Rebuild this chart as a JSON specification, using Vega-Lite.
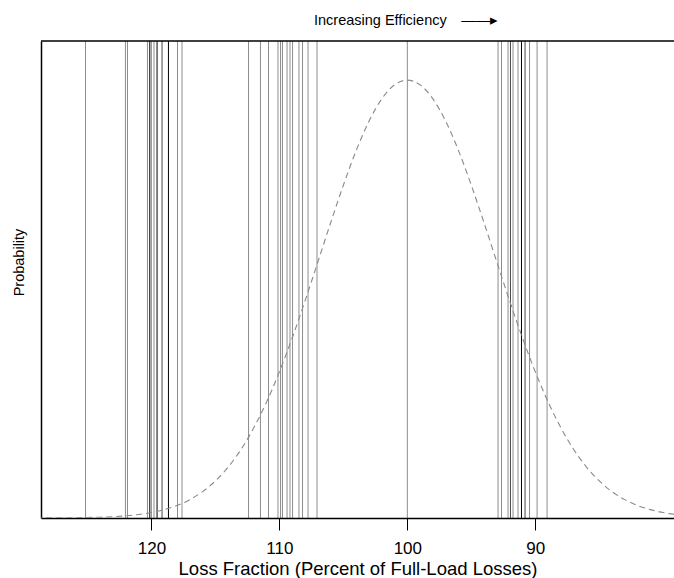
{
  "$schema": "https://vega.github.io/schema/vega-lite/v6.json",
  "autosize": {"type": "none"},
  "padding": {"left": 41, "top": 41, "right": 0, "bottom": 60},
  "width": 633,
  "height": 477,
  "background": "white",
  "config": {
    "view": {"stroke": null},
    "font": "Liberation Sans",
    "axis": {"grid": false}
  },
  "title": {
    "text": "Increasing Efficiency\u2002\u2002\u2014\u2014\u25B8",
    "anchor": "start",
    "frame": "group",
    "dx": 273,
    "offset": 1,
    "baseline": "alphabetic",
    "font": "Liberation Sans",
    "fontSize": 14.5,
    "fontWeight": "normal",
    "color": "#000000"
  },
  "datasets": {
    "readings": [
      {"loss": 125.15, "n": 1},
      {"loss": 122.03, "n": 1},
      {"loss": 121.87, "n": 1},
      {"loss": 120.31, "n": 1},
      {"loss": 120.15, "n": 2},
      {"loss": 120.03, "n": 2},
      {"loss": 119.80, "n": 1},
      {"loss": 119.56, "n": 3},
      {"loss": 119.17, "n": 2},
      {"loss": 118.67, "n": 3},
      {"loss": 117.96, "n": 1},
      {"loss": 117.61, "n": 1},
      {"loss": 112.41, "n": 1},
      {"loss": 111.48, "n": 1},
      {"loss": 110.85, "n": 1},
      {"loss": 110.11, "n": 1},
      {"loss": 109.91, "n": 1},
      {"loss": 109.76, "n": 1},
      {"loss": 109.40, "n": 1},
      {"loss": 109.17, "n": 1},
      {"loss": 108.97, "n": 1},
      {"loss": 108.47, "n": 1},
      {"loss": 108.19, "n": 1},
      {"loss": 107.76, "n": 1},
      {"loss": 107.06, "n": 1},
      {"loss": 100.00, "n": 1},
      {"loss": 92.91, "n": 1},
      {"loss": 92.64, "n": 1},
      {"loss": 92.13, "n": 1},
      {"loss": 91.94, "n": 2},
      {"loss": 91.74, "n": 1},
      {"loss": 91.35, "n": 1},
      {"loss": 91.08, "n": 3},
      {"loss": 90.80, "n": 2},
      {"loss": 90.45, "n": 1},
      {"loss": 89.86, "n": 1},
      {"loss": 89.08, "n": 1}
    ],
    "distribution": [
      {"loss": 79, "p": 0.0073},
      {"loss": 80, "p": 0.0114},
      {"loss": 81, "p": 0.0175},
      {"loss": 82, "p": 0.0262},
      {"loss": 83, "p": 0.0385},
      {"loss": 84, "p": 0.0553},
      {"loss": 85, "p": 0.0777},
      {"loss": 86, "p": 0.1068},
      {"loss": 87, "p": 0.1437},
      {"loss": 88, "p": 0.1891},
      {"loss": 89, "p": 0.2433},
      {"loss": 90, "p": 0.3064},
      {"loss": 91, "p": 0.3774},
      {"loss": 92, "p": 0.4548},
      {"loss": 93, "p": 0.5362},
      {"loss": 94, "p": 0.6184},
      {"loss": 95, "p": 0.6977},
      {"loss": 96, "p": 0.7702},
      {"loss": 97, "p": 0.8317},
      {"loss": 98, "p": 0.8786},
      {"loss": 99, "p": 0.9080},
      {"loss": 100, "p": 0.9180},
      {"loss": 101, "p": 0.9080},
      {"loss": 102, "p": 0.8786},
      {"loss": 103, "p": 0.8317},
      {"loss": 104, "p": 0.7702},
      {"loss": 105, "p": 0.6977},
      {"loss": 106, "p": 0.6184},
      {"loss": 107, "p": 0.5362},
      {"loss": 108, "p": 0.4548},
      {"loss": 109, "p": 0.3774},
      {"loss": 110, "p": 0.3064},
      {"loss": 111, "p": 0.2433},
      {"loss": 112, "p": 0.1891},
      {"loss": 113, "p": 0.1437},
      {"loss": 114, "p": 0.1068},
      {"loss": 115, "p": 0.0777},
      {"loss": 116, "p": 0.0553},
      {"loss": 117, "p": 0.0385},
      {"loss": 118, "p": 0.0262},
      {"loss": 119, "p": 0.0175},
      {"loss": 120, "p": 0.0114},
      {"loss": 121, "p": 0.0073},
      {"loss": 122, "p": 0.0045},
      {"loss": 123, "p": 0.0028},
      {"loss": 124, "p": 0.0017},
      {"loss": 125, "p": 0.0010},
      {"loss": 126, "p": 0.0006},
      {"loss": 127, "p": 0.0003},
      {"loss": 128, "p": 0.0002},
      {"loss": 129, "p": 0.0001}
    ],
    "frame_top": [{"p": 1}]
  },
  "layer": [
    {
      "data": {"name": "readings"},
      "mark": {"type": "rule", "color": "#000000", "strokeWidth": 1},
      "encoding": {
        "x": {
          "field": "loss",
          "type": "quantitative",
          "scale": {"domain": [79.16, 128.63], "reverse": true, "nice": false, "zero": false},
          "axis": {
            "title": "Loss Fraction (Percent of Full-Load Losses)",
            "values": [120, 110, 100, 90],
            "domainColor": "#000000",
            "domainWidth": 1.5,
            "tickColor": "#000000",
            "tickWidth": 1,
            "tickSize": 12,
            "labelFont": "Liberation Sans",
            "labelFontSize": 17,
            "labelColor": "#000000",
            "labelPadding": 10,
            "titleFont": "Liberation Sans",
            "titleFontSize": 18.5,
            "titleFontWeight": "normal",
            "titleColor": "#000000",
            "titleBaseline": "alphabetic",
            "titleY": 56
          }
        },
        "opacity": {
          "field": "n",
          "type": "quantitative",
          "scale": {"domain": [1, 3], "range": [0.45, 1]},
          "legend": null
        }
      }
    },
    {
      "data": {"name": "distribution"},
      "mark": {
        "type": "line",
        "color": "#8a8a8a",
        "strokeWidth": 1.1,
        "strokeDash": [6, 4],
        "interpolate": "monotone",
        "clip": true
      },
      "encoding": {
        "x": {
          "field": "loss",
          "type": "quantitative",
          "scale": {"domain": [79.16, 128.63], "reverse": true, "nice": false, "zero": false},
          "axis": {
            "title": "Loss Fraction (Percent of Full-Load Losses)",
            "values": [120, 110, 100, 90],
            "domainColor": "#000000",
            "domainWidth": 1.5,
            "tickColor": "#000000",
            "tickWidth": 1,
            "tickSize": 12,
            "labelFont": "Liberation Sans",
            "labelFontSize": 17,
            "labelColor": "#000000",
            "labelPadding": 10,
            "titleFont": "Liberation Sans",
            "titleFontSize": 18.5,
            "titleFontWeight": "normal",
            "titleColor": "#000000",
            "titleBaseline": "alphabetic",
            "titleY": 56
          }
        },
        "y": {
          "field": "p",
          "type": "quantitative",
          "scale": {"domain": [0, 1], "nice": false, "zero": true},
          "axis": {
            "title": "Probability",
            "labels": false,
            "ticks": false,
            "domainColor": "#000000",
            "domainWidth": 1.5,
            "titleFont": "Liberation Sans",
            "titleFontSize": 14.5,
            "titleFontWeight": "normal",
            "titleColor": "#000000",
            "titleBaseline": "alphabetic",
            "titleAlign": "center",
            "titleAngle": -90,
            "titleX": -17.5,
            "titleY": 221
          }
        }
      }
    },
    {
      "data": {"name": "frame_top"},
      "mark": {"type": "rule", "color": "#000000", "strokeWidth": 1.5},
      "encoding": {
        "y": {"field": "p", "type": "quantitative"}
      }
    }
  ]
}
